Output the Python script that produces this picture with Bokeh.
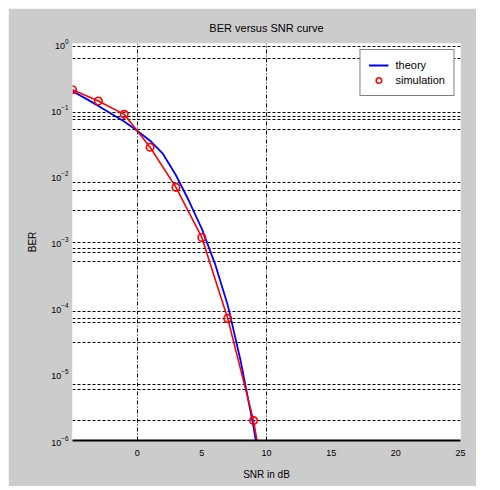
from bokeh.plotting import figure
from bokeh.models import FixedTicker, Range1d, Legend, LegendItem
from bokeh.embed import file_html
from bokeh.resources import INLINE

# ---- data ----
snr_theory = [-5, -4, -3, -2, -1, 0, 1, 2, 3, 4, 5, 6, 7, 8, 9, 10]
ber_theory = [0.19, 0.148, 0.114, 0.087, 0.066, 0.048, 0.034, 0.0214, 0.0102,
              0.0042, 0.00158, 4.8e-4, 1.12e-4, 1.6e-5, 1.6e-6, 1.0e-7]

snr_sim = [-5, -3, -1, 1, 3, 5, 7, 9, 11]
ber_sim = [0.20, 0.135, 0.085, 0.027, 0.0067, 0.00117, 7.0e-5, 2.0e-6, 1.0e-8]

x_ticks = [0, 5, 10, 15, 20, 25]
y_ticks = [1e-6, 1e-5, 1e-4, 1e-3, 1e-2, 1e-1, 1]
x_grid = [0, 10]
y_grid = [0.9, 0.6, 0.09, 0.08, 0.07, 0.05, 0.008, 0.006, 0.003, 0.001,
          8e-4, 7e-4, 5e-4, 9e-5, 7e-5, 6e-5, 3e-5, 7e-6, 6e-6, 2e-6]

FONT = "Liberation Sans"

p = figure(width=468, height=478, y_axis_type="log",
           x_range=Range1d(-5, 25), y_range=Range1d(1e-6, 1),
           output_backend="svg", toolbar_location=None,
           min_border_left=64, min_border_right=16,
           min_border_top=35, min_border_bottom=46,
           title="BER versus SNR curve")
p.margin = (8, 0, 0, 8)

p.border_fill_color = "#cccccc"
p.background_fill_color = "white"
p.outline_line_color = None

p.title.align = "center"
p.title.text_font = FONT
p.title.text_font_size = "11px"
p.title.text_font_style = "normal"
p.title.text_color = "black"
p.title.standoff = 20

# axes
p.xaxis.ticker = FixedTicker(ticks=x_ticks, minor_ticks=[])
p.yaxis.ticker = FixedTicker(ticks=y_ticks, minor_ticks=[])
for ax in (p.xaxis[0], p.yaxis[0]):
    ax.major_label_text_font = FONT
    ax.major_label_text_font_size = "9px"
    ax.major_label_text_color = "black"
    ax.axis_label_text_font = FONT
    ax.axis_label_text_font_size = "10px"
    ax.axis_label_text_font_style = "normal"
    ax.axis_label_text_color = "black"
    ax.major_tick_line_color = None
    ax.minor_tick_line_color = None
    ax.major_tick_out = 0
    ax.major_tick_in = 0
    ax.minor_tick_out = 0
    ax.minor_tick_in = 0

p.xaxis.axis_label = "SNR in dB"
p.xaxis.axis_line_color = "black"
p.xaxis.axis_line_width = 2
p.xaxis.major_label_standoff = 9
p.xaxis.axis_label_standoff = 10

p.yaxis.axis_label = "BER"
p.yaxis.axis_line_color = None
p.yaxis.major_label_standoff = 4
p.yaxis.axis_label_standoff = 10

# grid
p.xgrid.ticker = FixedTicker(ticks=x_grid, minor_ticks=[])
p.ygrid.ticker = FixedTicker(ticks=y_grid, minor_ticks=[])
p.xgrid.grid_line_color = "black"
p.xgrid.grid_line_dash = "4 2 1 2"
p.xgrid.grid_line_width = 1
p.ygrid.grid_line_color = "black"
p.ygrid.grid_line_dash = "3 2"
p.ygrid.grid_line_width = 1

# curves
theory = p.line(snr_theory, ber_theory, line_color="blue", line_width=1.8)
sim_line = p.line(snr_sim, ber_sim, line_color="red", line_width=1.6)
sim_pts = p.scatter(snr_sim, ber_sim, marker="circle", size=7.5,
                    fill_color=None, line_color="red", line_width=1.6)

legend = Legend(items=[LegendItem(label="theory", renderers=[theory]),
                       LegendItem(label="simulation", renderers=[sim_pts])],
                location="top_right")
legend.label_text_font = FONT
legend.label_text_font_size = "11px"
legend.label_text_color = "black"
legend.border_line_color = "black"
legend.border_line_width = 1
legend.background_fill_color = "white"
legend.background_fill_alpha = 1
legend.padding = 8
legend.spacing = 1
legend.margin = 6
legend.glyph_width = 20
legend.glyph_height = 14
legend.label_standoff = 7
legend.label_height = 14
p.add_layout(legend, "center")

open("out.html", "w").write(file_html(p, INLINE))
